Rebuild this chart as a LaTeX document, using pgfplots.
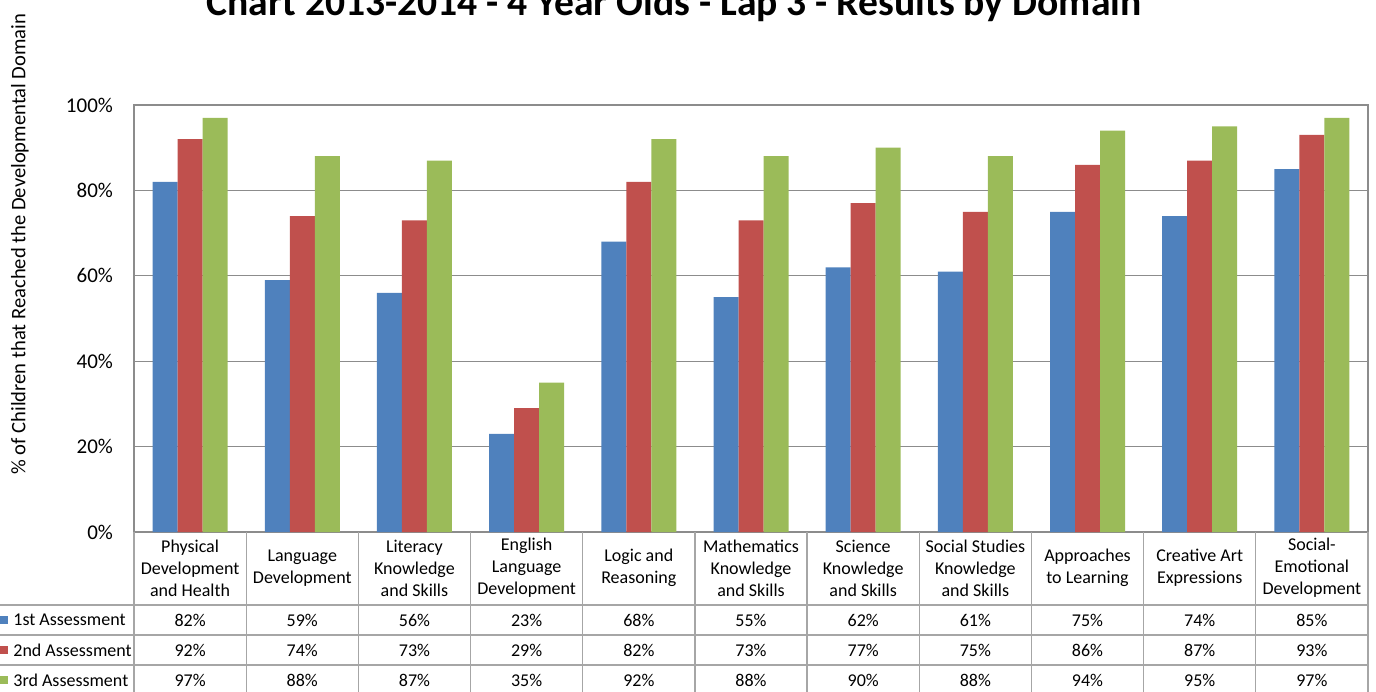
\documentclass[border=0pt]{standalone}
\usepackage{pgfplots}
\pgfplotsset{compat=1.18}
\usepackage{pgfplotstable}
\usepackage{fontspec}
\setmainfont{Carlito}
\definecolor{cA}{HTML}{4F81BD}
\definecolor{cB}{HTML}{C0504D}
\definecolor{cC}{HTML}{9BBB59}
\definecolor{gridc}{HTML}{8C8C8C}
\definecolor{tabc}{HTML}{A6A6A6}

\pgfplotstableread{
x a b c
0 82 92 97
1 59 74 88
2 56 73 87
3 23 29 35
4 68 82 92
5 55 73 88
6 62 77 90
7 61 75 88
8 75 86 94
9 74 87 95
10 85 93 97
}\datatable

\begin{document}
\begin{tikzpicture}
\useasboundingbox (0,0) rectangle (688pt,-345.5pt);
\clip (0,0) rectangle (688pt,-345.5pt);
\begin{axis}[
  at={(67pt,-266pt)}, anchor=south west,
  scale only axis, width=617pt, height=213.5pt,
  xmin=-0.5, xmax=10.5, ymin=0, ymax=100,
  ybar=0pt, bar width=12.5pt,
  xtick=\empty,
  ytick={0,20,...,100},
  yticklabel={\pgfmathprintnumber{\tick}\%},
  /pgf/number format/assume math mode=true,
  ymajorgrids, grid style={gridc, line width=0.6pt},
  axis line style={gridc, line width=0.6pt},
  major tick length=0pt,
  yticklabel style={font=\fontsize{10.5pt}{12pt}\selectfont, xshift=-7pt},
]
\addplot[fill=cA, draw=none] table[x=x,y=a]{\datatable};
\addplot[fill=cB, draw=none] table[x=x,y=b]{\datatable};
\addplot[fill=cC, draw=none] table[x=x,y=c]{\datatable};
\end{axis}
\begin{scope}[x=0.5pt, y=-0.5pt]
\def\cw{112.18}
\foreach \k in {0,...,11} \draw[tabc, line width=0.6pt] ({134+\k*\cw},532) -- ({134+\k*\cw},700);
\foreach \yy in {605,635,665} \draw[tabc, line width=0.6pt] (0,\yy) -- (1368,\yy);
\begin{scope}[every node/.style={font=\fontsize{9pt}{11pt}\selectfont, align=center, inner sep=0pt}]
\foreach \k/\t in {0/{Physical\\Development\\and Health}, 1/{Language\\Development}, 2/{Literacy\\Knowledge\\and Skills}, 3/{English\\Language\\Development}, 4/{Logic and\\Reasoning}, 5/{Mathematics\\Knowledge\\and Skills}, 6/{Science\\Knowledge\\and Skills}, 7/{Social Studies\\Knowledge\\and Skills}, 8/{Approaches\\to Learning}, 9/{Creative Art\\Expressions}, 10/{Social-\\Emotional\\Development}}
  \node at ({134+(\k+0.5)*\cw},568) {\t};
\foreach \k/\a/\b/\c in {0/82/92/97, 1/59/74/88, 2/56/73/87, 3/23/29/35, 4/68/82/92, 5/55/73/88, 6/62/77/90, 7/61/75/88, 8/75/86/94, 9/74/87/95, 10/85/93/97} {
  \node at ({134+(\k+0.5)*\cw},620) {\a\%};
  \node at ({134+(\k+0.5)*\cw},650) {\b\%};
  \node at ({134+(\k+0.5)*\cw},680) {\c\%};
}
\fill[cA] (0,616) rectangle (8,624);
\fill[cB] (0,646) rectangle (8,654);
\fill[cC] (0,676) rectangle (8,684);
\node[anchor=west] at (13,620) {1st Assessment};
\node[anchor=west] at (13,650) {2nd Assessment};
\node[anchor=west] at (13,680) {3rd Assessment};
\node[rotate=90, font=\fontsize{10.3pt}{12pt}\selectfont] at (20,244) {\% of Children that Reached the Developmental Domain};
\end{scope}
\node[anchor=base, font=\fontsize{19.8pt}{24pt}\selectfont\bfseries, inner sep=0pt] at (674,15) {Chart 2013-2014 - 4 Year Olds - Lap 3 - Results by Domain};
\end{scope}
\end{tikzpicture}
\end{document}
